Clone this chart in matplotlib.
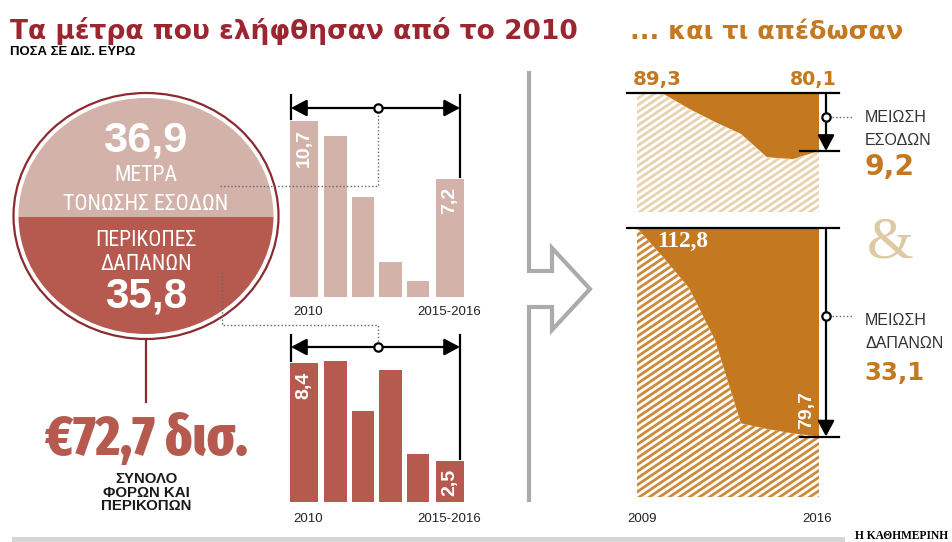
import numpy as np
import matplotlib
matplotlib.use("Agg")
import matplotlib.pyplot as plt
from matplotlib.patches import Ellipse, Rectangle
from matplotlib.collections import LineCollection
from matplotlib.transforms import IdentityTransform

# ---------------------------------------------------------------- data
bar_periods = ["2010", "", "", "", "", "2015-2016"]
revenue_measures = [10.7, 9.8, 6.1, 2.1, 1.0, 7.2]   # tax-raising measures, bn EUR
spending_cuts = [8.4, 8.5, 5.5, 8.0, 2.9, 2.5]      # expenditure cuts, bn EUR

years = [2009, 2010, 2011, 2012, 2013, 2014, 2015, 2016]
revenue = [89.3, 89.2, 86.8, 84.7, 82.8, 79.1, 78.8, 80.1]
spending = [112.8, 108.2, 103.3, 95.0, 81.8, 80.9, 80.2, 79.7]

# ---------------------------------------------------------------- style
RED = "#9c2630"
RING = "#8d2a30"
UPPER = "#d3b3a9"
LOWER = "#b65a50"
ORANGE = "#c4781f"
TAN_STRIPE = "#e8d3b1"
ORANGE_STRIPE = "#cc8a3b"
AMP = "#dfc9a4"
GRAY = "#ababab"
DOT = "#666666"

SANS = ["Liberation Sans", "DejaVu Sans"]
COND = ["Roboto Condensed", "Liberation Sans", "DejaVu Sans"]
XCOND = ["Fira Sans Extra Condensed", "Roboto Condensed", "Liberation Sans", "DejaVu Sans"]
WIDE = ["DejaVu Sans"]
SERIF = ["Liberation Serif", "DejaVu Serif"]

W, H = 952, 542
fig = plt.figure(figsize=(W / 100, H / 100), dpi=100)
R = fig.canvas.get_renderer()


def fmt(v):
    return f"{v:.1f}".replace(".", ",")


def px_axes(x0, y0, x1, y1, **kw):
    return fig.add_axes([x0 / W, 1 - y1 / H, (x1 - x0) / W, (y1 - y0) / H], **kw)


# overlay in pixel units for annotations and decoration
ov = px_axes(0, 0, W, H, zorder=5)
ov.set_xlim(0, W)
ov.set_ylim(H, 0)
ov.axis("off")


def label(x, y, s, size, width=None, ax=ov, **kw):
    kw.setdefault("va", "baseline")
    t = ax.text(x, y, s, fontsize=size, **kw)
    if width:
        w = t.get_window_extent(R).width
        t.set_fontsize(size * width / w)
    return t


dotted = dict(color=DOT, lw=1.0, ls=(0, (1, 1.6)))

# ---------------------------------------------------------------- titles
label(10, 39, "Τα μέτρα που ελήφθησαν από το 2010", 20, width=568,
      color=RED, weight="bold", family=WIDE)
label(10, 55, "ΠΟΣΑ ΣΕ ΔΙΣ. ΕΥΡΩ", 8, width=127, weight="bold", family=SANS)
label(630, 39, "... και τι απέδωσαν", 20, width=273,
      color=ORANGE, weight="bold", family=WIDE)

# ---------------------------------------------------------------- circle
top_total = sum(revenue_measures)
bot_total = sum(spending_cuts)
frac = top_total / (top_total + bot_total)
lo_t, hi_t = -1.0, 1.0
for _ in range(60):
    t = (lo_t + hi_t) / 2
    f = (t * np.sqrt(1 - t * t) + np.arcsin(t) + np.pi / 2) / np.pi
    lo_t, hi_t = (t, hi_t) if f < frac else (lo_t, t)
cx, cy, iw, ih = 146, 216, 255, 236
y_split = cy + t * ih / 2

clip = Ellipse((cx, cy), iw, ih, transform=ov.transData)
up = Rectangle((0, 0), 300, y_split, color=UPPER, lw=0)
dn = Rectangle((0, y_split), 300, H - y_split, color=LOWER, lw=0)
for p in (up, dn):
    ov.add_patch(p)
    p.set_clip_path(clip)
ov.add_patch(Ellipse((cx, cy), 265, 246, fill=False, ec=RING, lw=1.6))
ov.plot([cx, cx], [339, 402], color=RING, lw=1.6)

label(cx, 152, fmt(top_total), 30, width=84, ha="center", color="white",
      weight="bold", family=SANS)
t_ton = label(cx, 210, "ΤΟΝΩΣΗΣ ΕΣΟΔΩΝ", 14, width=166, ha="center",
              color="white", family=COND)
fs = t_ton.get_fontsize()
label(cx, 181, "ΜΕΤΡΑ", fs, ha="center", color="white", family=COND)
label(cx, 246, "ΠΕΡΙΚΟΠΕΣ", fs, ha="center", color="white", family=COND)
label(cx, 270, "ΔΑΠΑΝΩΝ", fs, ha="center", color="white", family=COND)
label(cx, 308, fmt(bot_total), 30, width=82, ha="center", color="white",
      weight="bold", family=SANS)

label(cx, 455, "€" + fmt(top_total + bot_total) + " δισ.", 40, width=203,
      ha="center", color=LOWER, weight="heavy", family=XCOND)
t_per = label(cx, 510, "ΠΕΡΙΚΟΠΩΝ", 10, width=90, ha="center",
              weight="bold", family=SANS, color="#1a1a1a")
fs = t_per.get_fontsize()
label(cx, 483, "ΣΥΝΟΛΟ", fs, ha="center", weight="bold", family=SANS, color="#1a1a1a")
label(cx, 497, "ΦΟΡΩΝ ΚΑΙ", fs, ha="center", weight="bold", family=SANS, color="#1a1a1a")

# ---------------------------------------------------------------- bar panels
BAR_LEFT = [290, 324, 352, 379, 407, 436]
BAR_W = [28, 23, 22, 23, 22, 28]
BR_L, BR_R, BR_M = 291, 460, 378
arrow_kw = dict(arrowstyle="-|>,head_length=0.6,head_width=0.32", color="k",
                lw=1.6, mutation_scale=16, shrinkA=0, shrinkB=0)


def bar_panel(y_top, y_base, scale, values, color, y_line, y_tick):
    ax = px_axes(285, y_top, 470, y_base)
    ax.set_xlim(285, 470)
    ax.set_ylim(0, (y_base - y_top) / scale)
    ax.axis("off")
    ax.bar(BAR_LEFT, values, width=BAR_W, align="edge", color=color, lw=0)
    for i in (0, len(values) - 1):
        ax.annotate(fmt(values[i]), (BAR_LEFT[i] + BAR_W[i] / 2, values[i]),
                    xytext=(0, -6), textcoords="offset points", rotation=90,
                    ha="center", va="top", color="white", weight="bold",
                    fontsize=14, family=SANS)
    yl = (y_base - y_line) / scale
    yt = (y_base - y_tick) / scale
    ax.plot([BR_L, BR_L], [values[0] + 0.1, yt], color="k", lw=1.6, clip_on=False)
    ax.plot([BR_R, BR_R], [values[-1] + 0.1, yt], color="k", lw=1.6, clip_on=False)
    for xe in (BR_L, BR_R):
        ax.annotate("", xy=(xe, yl), xytext=(BR_M, yl), arrowprops=arrow_kw,
                    annotation_clip=False)
    ax.plot([BR_M], [yl], "o", ms=6, mfc="white", mec="k", mew=1.6,
            clip_on=False, zorder=5)
    return ax


bar_panel(90, 297, 16.45, revenue_measures, UPPER, 108, 95)
bar_panel(325, 502, 16.55, spending_cuts, LOWER, 347, 335)

for yb in (315, 522):
    label(293, yb, bar_periods[0], 9.5, family=SANS, color="#222")
    label(481, yb, bar_periods[-1], 9.5, ha="right", family=SANS, color="#222")

# leaders from the circle to the bar brackets
ov.plot([220, BR_M, BR_M], [186, 186, 113], **dotted)
ov.plot([222, 222, BR_M, BR_M], [272, 325, 325, 342], **dotted)

# ---------------------------------------------------------------- divider arrow
ov.plot([529, 529, 552, 552, 590, 552, 552, 529, 529],
        [73, 271, 271, 248, 289, 330, 307, 307, 500],
        color=GRAY, lw=3, solid_joinstyle="miter")

# ---------------------------------------------------------------- area panels
AREA_SCALE = 6.3
AX0, AX1 = 637, 819


def fx(px):
    return (px - AX0) / (AX1 - AX0)


def area_panel(y_top, y_bot, values, stripe_color):
    top_val = values[0]
    lo = top_val - (y_bot - y_top) / AREA_SCALE
    ax = px_axes(AX0, y_top, AX1, y_bot)
    ax.set_xlim(years[0], years[-1])
    ax.set_ylim(lo, top_val)
    ax.axis("off")
    base = ax.fill_between(years, lo, values, facecolor="white", lw=0)
    ax.fill_between(years, values, top_val, facecolor=ORANGE, lw=0)

    # diagonal stripes clipped to the remaining area
    bb = ax.bbox
    th = np.deg2rad(34)
    d = np.array([np.cos(th), np.sin(th)])
    n = np.array([-np.sin(th), np.cos(th)])
    corners = np.array([[bb.x0, bb.y0], [bb.x1, bb.y0], [bb.x0, bb.y1], [bb.x1, bb.y1]])
    proj = corners @ n
    L = bb.width + bb.height
    segs = []
    for c in np.arange(proj.min() - 6, proj.max() + 6, 5.6):
        p0 = c * n + (corners @ d).min() * d - 5 * d
        segs.append([p0, p0 + (L + 20) * d])
    lc = LineCollection(segs, colors=stripe_color, linewidths=2.0,
                        transform=IdentityTransform())
    ax.add_collection(lc, autolim=False)
    lc.set_clip_path(base.get_paths()[0], ax.transData)

    yt = ax.get_yaxis_transform()
    ax.plot([fx(627), fx(839)], [top_val, top_val], color="k", lw=1.6,
            transform=yt, clip_on=False)
    ax.plot([fx(800), fx(839)], [values[-1]] * 2, color="k", lw=1.6,
            transform=yt, clip_on=False)
    ax.annotate("", xy=(fx(826), values[-1]), xytext=(fx(826), top_val),
                xycoords=yt, textcoords=yt, arrowprops=arrow_kw,
                annotation_clip=False)
    mid = top_val - 0.42 * (top_val - values[-1])
    ax.plot([fx(826)], [mid], "o", ms=6, mfc="white", mec="k", mew=1.6,
            transform=yt, clip_on=False, zorder=5)
    ax.plot([fx(832), fx(853)], [mid, mid], transform=yt, clip_on=False, **dotted)
    return ax


area_panel(93, 212, revenue, TAN_STRIPE)
area_panel(228, 497, spending, ORANGE_STRIPE)

label(633, 85, fmt(revenue[0]), 14, width=49, color=ORANGE, weight="bold", family=WIDE)
label(837, 85, fmt(revenue[-1]), 14, width=47, ha="right", color=ORANGE,
      weight="bold", family=WIDE)
label(657, 247, fmt(spending[0]), 12, width=51, color="white", weight="bold", family=SERIF)
ov.text(807, 410, fmt(spending[-1]), rotation=90, ha="center", va="center",
        color="white", weight="bold", fontsize=14, family=SANS)

t_eso = label(865, 145, "ΕΣΟΔΩΝ", 12, width=67, color="#333", family=SANS)
fs = t_eso.get_fontsize()
label(865, 122, "ΜΕΙΩΣΗ", fs, color="#333", family=SANS)
label(864, 175, fmt(revenue[0] - revenue[-1]), 22, width=50, color=ORANGE,
      weight="bold", family=WIDE)
label(865, 325, "ΜΕΙΩΣΗ", fs, color="#333", family=SANS)
label(865, 348, "ΔΑΠΑΝΩΝ", fs, color="#333", family=SANS)
label(864, 380, fmt(spending[0] - spending[-1]), 22, width=60, color=ORANGE,
      weight="bold", family=WIDE)
label(890, 258, "&", 50, width=47, ha="center", color=AMP, family=SERIF)

label(627, 522, str(years[0]), 9.5, family=SANS, color="#222")
label(832, 522, str(years[-1]), 9.5, ha="right", family=SANS, color="#222")

# ---------------------------------------------------------------- footer
ov.add_patch(Rectangle((12, 537), 833, 6, color="#d6d6d6", lw=0))
label(855, 539, "Η ΚΑΘΗΜΕΡΙΝΗ", 8, width=94, weight="bold", family=SERIF)

fig.savefig("out.png", dpi=100, facecolor="white")
